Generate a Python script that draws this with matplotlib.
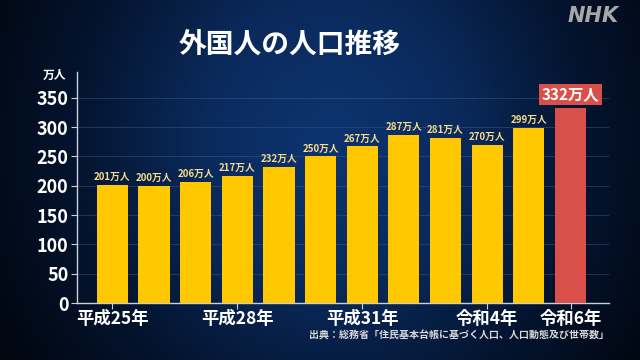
import numpy as np
import matplotlib
matplotlib.use("Agg")
import matplotlib.pyplot as plt
from matplotlib.colors import LinearSegmentedColormap

plt.rcParams['font.family'] = ['Noto Sans CJK JP', 'DejaVu Sans']

years = ['平成25年', '平成26年', '平成27年', '平成28年', '平成29年', '平成30年', '平成31年',
         '令和2年', '令和3年', '令和4年', '令和5年', '令和6年']
values = [201, 200, 206, 217, 232, 250, 267, 287, 281, 270, 299, 332]
shown_ticks = [0, 3, 6, 9, 11]
yticks = [0, 50, 100, 150, 200, 250, 300, 350]

fig = plt.figure(figsize=(6.4, 3.6), dpi=100)

# background gradient
bg = fig.add_axes([0, 0, 1, 1], zorder=-10)
bg.axis('off')
h, w = 360, 640
yy, xx = np.mgrid[0:h, 0:w]
dx = (xx - 330) / 380.0
dy = (yy - 140) / 420.0
r = np.sqrt(dx**2 + dy**2)
t = np.clip(1 - r, 0, 1)
cmap_bg = LinearSegmentedColormap.from_list('bg', ['#01060f', '#04142f', '#0a2a5c', '#0d3470'])
bg.imshow(t, cmap=cmap_bg, aspect='auto', extent=[0, 1, 0, 1], vmin=0, vmax=1)
bg.set_xlim(0, 1); bg.set_ylim(0, 1)

ax = fig.add_axes([0.120, 0.158, 0.832, 0.642])
ax.set_facecolor('none')
x = np.arange(len(values))
colors = ['#FFC800'] * (len(values) - 1) + ['#D9504B']
ax.bar(x, values, width=0.75, color=colors, zorder=3)

for i, v in enumerate(values[:-1]):
    ax.text(i, v + 5, f'{v}万人', ha='center', va='bottom', color='#F4DA8A',
            fontsize=7, fontweight='bold', zorder=4)
ax.text(x[-1], values[-1] + 10, f'{values[-1]}万人', ha='center', va='bottom', color='white',
        fontsize=11, fontweight='bold', zorder=4,
        bbox=dict(boxstyle='square,pad=0.15', fc='#D9504B', ec='none'))

ax.set_xlim(-0.85, 11.93)
ax.set_ylim(0, 394)
ax.set_yticks(yticks)
ax.set_yticklabels([str(v) for v in yticks], color='white', fontsize=13, fontweight='bold')
ax.set_xticks([x[i] for i in shown_ticks])
ax.set_xticklabels([years[i] for i in shown_ticks], color='white', fontsize=12.5, fontweight='bold')
ax.tick_params(axis='y', colors='#c8d0dc', length=4, pad=2, labelcolor='white')
ax.tick_params(axis='x', colors='#c8d0dc', length=4, pad=1, labelcolor='white')
for s in ['top', 'right']:
    ax.spines[s].set_visible(False)
for s in ['left', 'bottom']:
    ax.spines[s].set_color('#c8d0dc')
    ax.spines[s].set_linewidth(1.0)
ax.grid(axis='y', color='#3a5a8a', linewidth=0.7, alpha=0.5, zorder=0)

fig.text(0.452, 0.875, '外国人の人口推移', color='white', fontsize=20, fontweight='bold',
         ha='center', va='center')
fig.text(0.085, 0.79, '万人', color='white', fontsize=8.5, fontweight='bold', ha='center', va='center')
fig.text(0.927, 0.955, 'NHK', color='#a8a8a8', fontsize=15, fontweight='bold', style='italic',
         ha='center', va='center', family='DejaVu Sans')
fig.text(0.952, 0.068, '出典：総務省「住民基本台帳に基づく人口、人口動態及び世帯数」', color='#d8d8d8',
         fontsize=7.2, fontweight='bold', ha='right', va='center')

fig.savefig('out.png', dpi=100)
